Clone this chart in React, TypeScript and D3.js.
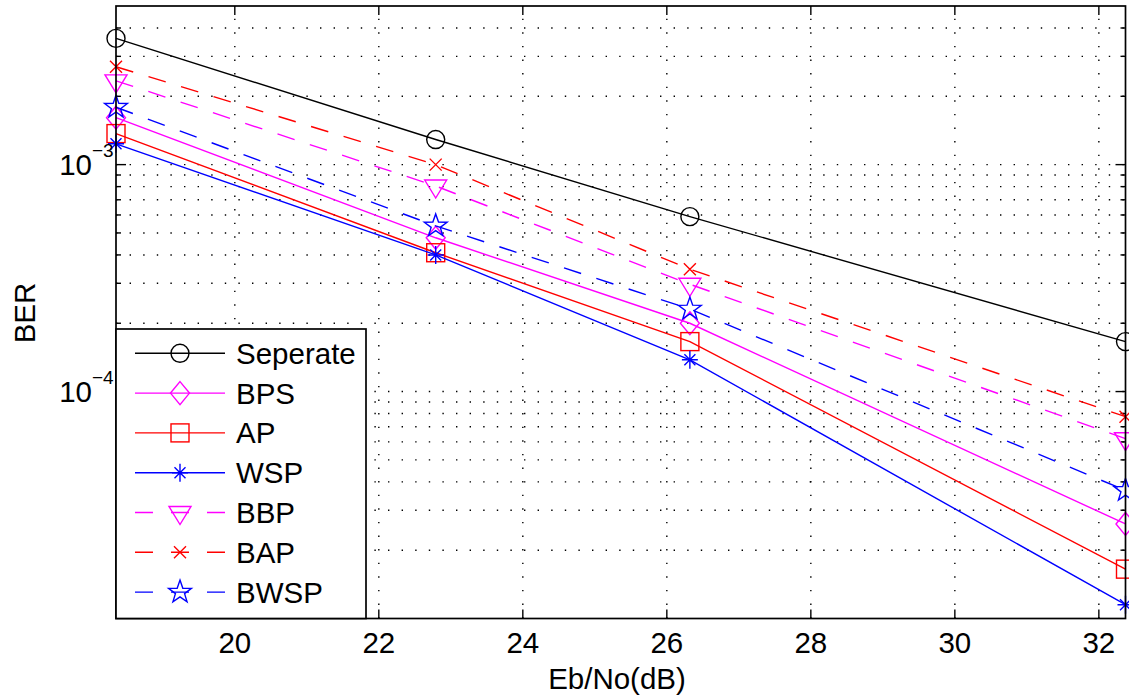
import React from "react";
import * as d3 from "d3";

const ebno = [18.35, 22.79, 26.32, 32.37];
const seperate = [3.6e-3, 1.29e-3, 5.9e-4, 1.66e-4];
const bps = [1.61e-3, 4.76e-4, 2.0e-4, 2.61e-5];
const ap = [1.37e-3, 4.09e-4, 1.66e-4, 1.65e-5];
const wsp = [1.235e-3, 4.0e-4, 1.38e-4, 1.15e-5];
const bbp = [2.34e-3, 8.05e-4, 2.97e-4, 6.2e-5];
const bap = [2.7e-3, 1.0e-3, 3.46e-4, 7.75e-5];
const bwsp = [1.79e-3, 5.37e-4, 2.31e-4, 3.67e-5];

const xTicks = [20, 22, 24, 26, 28, 30, 32];
const yMajorTicks = [1e-3, 1e-4];
const yMajorLabels = ["−3", "−4"];
const yDomain: [number, number] = [1e-5, 5e-3];

type Series = { name: string; values: number[]; color: string; dashed: boolean; marker: string };
const series: Series[] = [
  { name: "Seperate", values: seperate, color: "#000000", dashed: false, marker: "circle" },
  { name: "BPS", values: bps, color: "#ff00ff", dashed: false, marker: "diamond" },
  { name: "AP", values: ap, color: "#ff0000", dashed: false, marker: "square" },
  { name: "WSP", values: wsp, color: "#0000ff", dashed: false, marker: "asterisk" },
  { name: "BBP", values: bbp, color: "#ff00ff", dashed: true, marker: "triangle" },
  { name: "BAP", values: bap, color: "#ff0000", dashed: true, marker: "x" },
  { name: "BWSP", values: bwsp, color: "#0000ff", dashed: true, marker: "star" },
];

const L = 116, R = 1125.5, T = 6, B = 618.5;
const FONT = "'Liberation Sans', Arial, Helvetica, sans-serif";
const SW = 1.4;

function Marker({ type, x, y, color }: { type: string; x: number; y: number; color: string }) {
  const p = { fill: "none", stroke: color, strokeWidth: SW };
  switch (type) {
    case "circle":
      return <circle cx={x} cy={y} r={9} {...p} />;
    case "diamond":
      return <path d={`M${x},${y - 11.5}L${x + 9.5},${y}L${x},${y + 11.5}L${x - 9.5},${y}Z`} {...p} />;
    case "square":
      return <rect x={x - 9} y={y - 9} width={18} height={18} {...p} />;
    case "asterisk":
      return (
        <path
          d={`M${x},${y - 9}L${x},${y + 9}M${x - 8},${y}L${x + 8},${y}M${x - 5.5},${y - 5.5}L${x + 5.5},${y + 5.5}M${x - 5.5},${y + 5.5}L${x + 5.5},${y - 5.5}`}
          {...p}
        />
      );
    case "triangle":
      return <path d={`M${x - 11},${y - 6}L${x + 11},${y - 6}L${x},${y + 12}Z`} {...p} />;
    case "x":
      return <path d={`M${x - 6},${y - 6}L${x + 6},${y + 6}M${x - 6},${y + 6}L${x + 6},${y - 6}`} {...p} />;
    case "star": {
      const pts: string[] = [];
      for (let i = 0; i < 10; i++) {
        const r = i % 2 === 0 ? 12 : 4.8;
        const a = -Math.PI / 2 + (i * Math.PI) / 5;
        pts.push(`${x + r * Math.cos(a)},${y + r * Math.sin(a)}`);
      }
      return <path d={`M${pts.join("L")}Z`} {...p} />;
    }
  }
  return null;
}

export default function App() {
  const x = d3.scaleLinear().domain([ebno[0], ebno[ebno.length - 1]]).range([L, R]);
  const y = d3.scaleLog().domain(yDomain).range([B, T]);

  const minor: number[] = [];
  for (let e = -5; e <= -3; e++) {
    for (let k = 1; k <= 9; k++) {
      const v = k * Math.pow(10, e);
      if (v > yDomain[0] * 1.0001 && v < yDomain[1] * 0.9999) minor.push(v);
    }
  }
  const isMajor = (v: number) => yMajorTicks.some((m) => Math.abs(v - m) / m < 1e-6);

  const line = d3
    .line<number>()
    .x((_, i) => x(ebno[i]))
    .y((d) => y(d));

  const legX = L, legY = 329, legW = 250, legH = B - 329;
  const legRowY = (i: number) => 353.3 + i * 39.8;

  return (
    <svg
      width={1129}
      height={698}
      style={{ position: "absolute", left: 0, top: 0, display: "block", background: "#fff" }}
      fontFamily={FONT}
    >
      <rect x={0} y={0} width={1129} height={698} fill="#fff" />
      {/* grid */}
      <g stroke="#000" strokeWidth={1.4} strokeDasharray="1.4,12.2" fill="none">
        {xTicks.map((t) => (
          <line key={"gx" + t} x1={x(t)} x2={x(t)} y1={B} y2={T} />
        ))}
        {minor.map((v) => (
          <line key={"gy" + v} x1={L} x2={R} y1={y(v)} y2={y(v)} />
        ))}
      </g>
      {/* ticks */}
      <g stroke="#000" strokeWidth={1.4}>
        {xTicks.map((t) => (
          <g key={"tx" + t}>
            <line x1={x(t)} x2={x(t)} y1={B} y2={B - 9} />
            <line x1={x(t)} x2={x(t)} y1={T} y2={T + 9} />
          </g>
        ))}
        {minor.map((v) => {
          const len = isMajor(v) ? 10 : 5;
          return (
            <g key={"ty" + v}>
              <line x1={L} x2={L + len} y1={y(v)} y2={y(v)} />
              <line x1={R} x2={R - len} y1={y(v)} y2={y(v)} />
            </g>
          );
        })}
      </g>
      {/* data */}
      {series.map((s) => (
        <g key={s.name}>
          <path
            d={line(s.values) || ""}
            fill="none"
            stroke={s.color}
            strokeWidth={SW}
            strokeDasharray={s.dashed ? "18,16" : undefined}
          />
          {s.values.map((v, i) => (
            <Marker key={i} type={s.marker} x={x(ebno[i])} y={y(v)} color={s.color} />
          ))}
        </g>
      ))}
      {/* axes box */}
      <rect x={L} y={T} width={R - L} height={B - T} fill="none" stroke="#000" strokeWidth={1.7} />
      {/* legend */}
      <rect x={legX} y={legY} width={legW} height={legH} fill="#fff" stroke="#000" strokeWidth={1.7} />
      {series.map((s, i) => {
        const cy = legRowY(i);
        return (
          <g key={"leg" + s.name}>
            <line
              x1={135}
              x2={225}
              y1={cy}
              y2={cy}
              stroke={s.color}
              strokeWidth={SW}
              strokeDasharray={s.dashed ? "18,18" : undefined}
            />
            <Marker type={s.marker} x={180} y={cy} color={s.color} />
            <text x={236} y={cy + 10.4} fontSize={29.5} fill="#000">
              {s.name}
            </text>
          </g>
        );
      })}
      {/* x tick labels */}
      {xTicks.map((t) => (
        <text key={"lx" + t} x={x(t)} y={653} fontSize={29.5} textAnchor="middle" fill="#000">
          {t}
        </text>
      ))}
      {/* y tick labels */}
      {yMajorTicks.map((v, i) => (
        <g key={"ly" + v}>
          <text x={92} y={y(v) + 10} fontSize={29.5} textAnchor="end" fill="#000">
            10
          </text>
          <text x={92} y={y(v) - 8} fontSize={19} textAnchor="start" fill="#000">
            {yMajorLabels[i]}
          </text>
        </g>
      ))}
      {/* axis labels */}
      <text x={617} y={689} fontSize={29.5} textAnchor="middle" fill="#000">
        Eb/No(dB)
      </text>
      <text transform="translate(35,313) rotate(-90)" fontSize={29.5} textAnchor="middle" fill="#000">
        BER
      </text>
    </svg>
  );
}
